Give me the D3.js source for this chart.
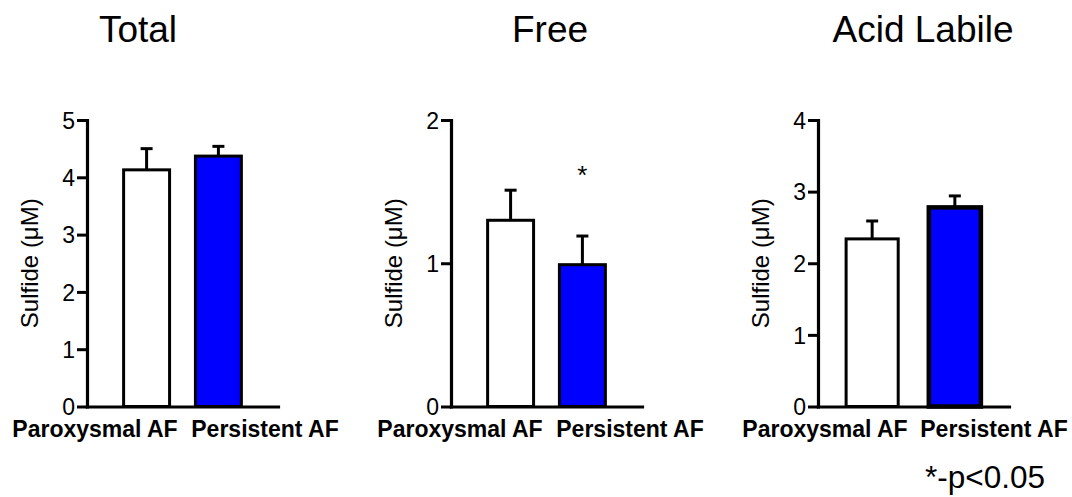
<!DOCTYPE html>
<html>
<head>
<meta charset="utf-8">
<script src="https://cdn.jsdelivr.net/npm/d3@7"></script>
<style>
    body { margin: 0; background: #fff; }
    text { font-family: "Liberation Sans", Arial, sans-serif; fill: #000; }
</style>
</head>
<body>
<div id="chart"></div>
<script>
// data
const groups = ["Paroxysmal AF", "Persistent AF"];
const panelTitles = ["Total", "Free", "Acid Labile"];
const totalMeans = [4.13, 4.37];
const totalErrors = [0.37, 0.17];
const freeMeans = [1.30, 0.99];
const freeErrors = [0.21, 0.20];
const acidMeans = [2.34, 2.78];
const acidErrors = [0.25, 0.16];
const yMax = [5, 2, 4];
const yTicks = [[0, 1, 2, 3, 4, 5], [0, 1, 2], [0, 1, 2, 3, 4]];
const significance = [{panel: 1, group: "Persistent AF", y: 1.65, label: "*"}];
const footnote = "*-p<0.05";

class BarPanel {
    constructor(svg, config) {
        this.svg = svg;
        Object.assign(this, config);
        this.initVis();
    }

    initVis() {
        let vis = this;

        vis.g = vis.svg.append("g");

        vis.y = d3.scaleLinear()
            .domain([0, vis.max])
            .range([406.5, 120]);

        vis.x = d3.scaleBand()
            .domain(groups)
            .range([vis.left, vis.left + 191])
            .paddingInner(vis.padInner)
            .paddingOuter(vis.padOuter);

        vis.updateVis();
    }

    updateVis() {
        let vis = this;
        const data = groups.map((g, i) => ({group: g, mean: vis.means[i], err: vis.errors[i]}));

        // bars
        vis.g.selectAll(".bar")
            .data(data)
            .join("rect")
            .attr("class", "bar")
            .attr("x", d => vis.x(d.group))
            .attr("y", d => vis.y(d.mean))
            .attr("width", vis.x.bandwidth())
            .attr("height", d => vis.y(0) - vis.y(d.mean))
            .attr("fill", (d, i) => i === 0 ? "#ffffff" : "#0000ff")
            .attr("stroke", "#000")
            .attr("stroke-width", (d, i) => i === 1 ? vis.blueStroke : 3);

        // error bars (upper half only)
        const cx = d => vis.x(d.group) + vis.x.bandwidth() / 2;
        vis.g.selectAll(".err")
            .data(data)
            .join("line")
            .attr("class", "err")
            .attr("x1", cx).attr("x2", cx)
            .attr("y1", d => vis.y(d.mean))
            .attr("y2", d => vis.y(d.mean + d.err))
            .attr("stroke", "#000")
            .attr("stroke-width", 3);

        vis.g.selectAll(".cap")
            .data(data)
            .join("line")
            .attr("class", "cap")
            .attr("x1", d => cx(d) - 6).attr("x2", d => cx(d) + 6)
            .attr("y1", d => vis.y(d.mean + d.err))
            .attr("y2", d => vis.y(d.mean + d.err))
            .attr("stroke", "#000")
            .attr("stroke-width", 3);

        // y axis
        const yAxis = vis.g.append("g")
            .attr("transform", `translate(${vis.left},0)`)
            .call(d3.axisLeft(vis.y).tickValues(vis.ticks).tickSize(10).tickSizeOuter(0).tickFormat(d3.format("d")));
        yAxis.select(".domain").attr("stroke-width", 3.2).attr("stroke-linecap", "square");
        yAxis.selectAll(".tick line").attr("stroke-width", 3);
        yAxis.selectAll(".tick text")
            .attr("x", -12)
            .attr("dy", "0.36em")
            .style("font-size", "23px")
            .attr("font-family", null);

        // x axis line
        const xAxis = vis.g.append("g")
            .attr("transform", `translate(0,${vis.y(0)})`)
            .call(d3.axisBottom(vis.x).tickSize(0).tickSizeOuter(0).tickFormat(""));
        xAxis.select(".domain").attr("stroke-width", 3.2).attr("stroke-linecap", "square");
        xAxis.selectAll(".tick").remove();

        // category labels
        vis.g.selectAll(".cat")
            .data(groups)
            .join("text")
            .attr("class", "cat")
            .attr("x", (d, i) => vis.left + vis.labelOffsets[i])
            .attr("y", 437)
            .attr("text-anchor", "middle")
            .style("font-size", "23px")
            .style("font-weight", "bold")
            .text(d => d);

        // y label
        vis.g.append("text")
            .attr("transform", `translate(${vis.left - 49},${(vis.y(0) + vis.y(vis.max)) / 2}) rotate(-90)`)
            .attr("text-anchor", "middle")
            .style("font-size", "24px")
            .text("Sulfide (\u03bcM)");

        // title
        vis.g.append("text")
            .attr("x", vis.titleX)
            .attr("y", 42)
            .attr("text-anchor", "middle")
            .style("font-size", "37px")
            .text(vis.title);

        // significance marks
        significance.filter(s => s.panel === vis.index).forEach(s => {
            vis.g.append("text")
                .attr("x", vis.x(s.group) + vis.x.bandwidth() / 2)
                .attr("y", vis.y(s.y))
                .attr("dy", "0.55em")
                .attr("text-anchor", "middle")
                .style("font-size", "26px")
                .text(s.label);
        });
    }
}

const svg = d3.select("#chart").append("svg")
    .attr("width", 1072)
    .attr("height", 497);

const means = [totalMeans, freeMeans, acidMeans];
const errors = [totalErrors, freeErrors, acidErrors];
const layout = [
    {left: 87, padInner: 0.36, padOuter: 0.51, titleX: 138, labelOffsets: [8, 178], blueStroke: 3},
    {left: 451, padInner: 0.36, padOuter: 0.51, titleX: 550, labelOffsets: [9, 179], blueStroke: 3},
    {left: 818, padInner: 0.37, padOuter: 0.34, titleX: 923, labelOffsets: [7, 176], blueStroke: 4.5}
];

panelTitles.forEach((t, i) => {
    new BarPanel(svg, Object.assign({
        index: i,
        title: t,
        max: yMax[i],
        ticks: yTicks[i],
        means: means[i],
        errors: errors[i]
    }, layout[i]));
});

svg.append("text")
    .attr("x", 925)
    .attr("y", 488)
    .style("font-size", "31.5px")
    .text(footnote);
</script>
</body>
</html>
